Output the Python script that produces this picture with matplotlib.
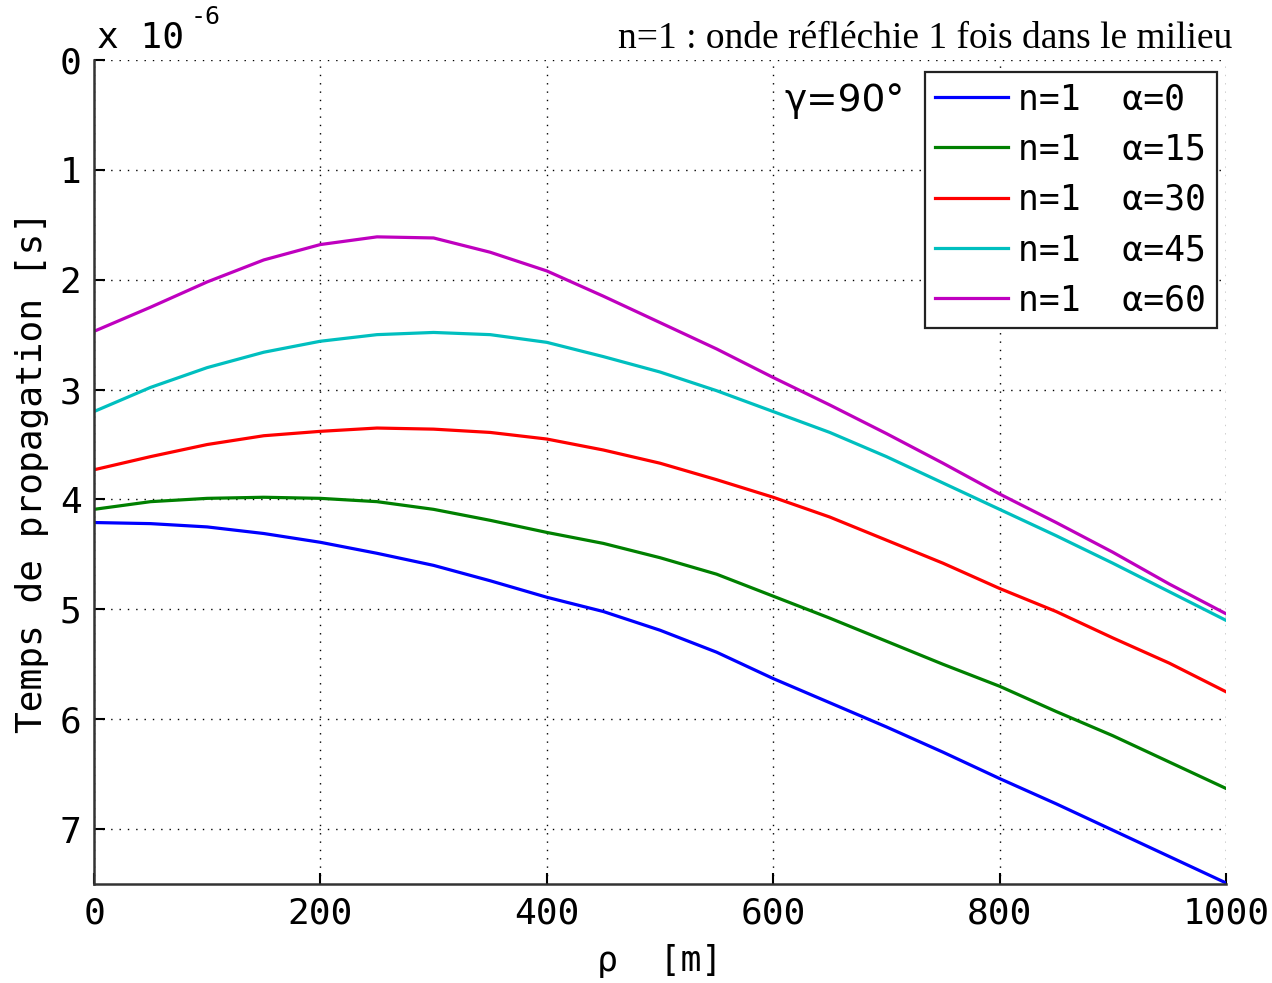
import matplotlib
matplotlib.use("Agg")
import matplotlib.pyplot as plt

# ==============================
# DATA (temps en unites de 1e-6 s)
# ==============================
rho = [0, 50, 100, 150, 200, 250, 300, 350, 400, 450, 500, 550,
       600, 650, 700, 750, 800, 850, 900, 950, 1000]

t_a0 = [4.21, 4.22, 4.25, 4.31, 4.39, 4.49, 4.60, 4.74, 4.89, 5.02, 5.19, 5.39,
        5.63, 5.85, 6.07, 6.30, 6.54, 6.77, 7.01, 7.25, 7.49]
t_a15 = [4.09, 4.02, 3.99, 3.98, 3.99, 4.02, 4.09, 4.19, 4.30, 4.40, 4.53, 4.68,
         4.88, 5.08, 5.29, 5.50, 5.70, 5.93, 6.15, 6.39, 6.63]
t_a30 = [3.73, 3.61, 3.50, 3.42, 3.38, 3.35, 3.36, 3.39, 3.45, 3.55, 3.67, 3.82,
         3.98, 4.16, 4.37, 4.58, 4.81, 5.02, 5.26, 5.49, 5.75]
t_a45 = [3.20, 2.98, 2.80, 2.66, 2.56, 2.50, 2.48, 2.50, 2.57, 2.70, 2.84, 3.01,
         3.20, 3.39, 3.61, 3.85, 4.09, 4.33, 4.58, 4.84, 5.10]
t_a60 = [2.47, 2.25, 2.02, 1.82, 1.68, 1.61, 1.62, 1.75, 1.92, 2.15, 2.39, 2.63,
         2.89, 3.14, 3.40, 3.67, 3.95, 4.21, 4.48, 4.77, 5.04]

labels = ["n=1  α=0", "n=1  α=15", "n=1  α=30", "n=1  α=45", "n=1  α=60"]
colors = ["#0000ff", "#008000", "#ff0000", "#00bfbf", "#bf00bf"]
series = [t_a0, t_a15, t_a30, t_a45, t_a60]

# ==============================
# FIGURE
# ==============================
mono = "DejaVu Sans Mono"
fig = plt.figure(figsize=(12.72, 9.83), dpi=100)
ax = fig.add_axes([0.0739, 0.1007, 0.8899, 0.8383])

for t, lab, c in zip(series, labels, colors):
    ax.plot(rho, t, color=c, lw=2.3, label=lab)

ax.set_xlim(0, 1000)
ax.set_ylim(7.5, 0)
ax.set_xticks([0, 200, 400, 600, 800, 1000])
ax.set_yticks([0, 1, 2, 3, 4, 5, 6, 7])
ax.grid(True, color="black", linestyle=(0, (1, 5)), linewidth=1.0)

for s in ["top", "right"]:
    ax.spines[s].set_visible(False)
for s in ["left", "bottom"]:
    ax.spines[s].set_linewidth(1.8)
    ax.spines[s].set_color("#333333")

ax.tick_params(direction="in", length=8, width=1.5, labelsize=26, pad=9)
for lbl in ax.get_xticklabels() + ax.get_yticklabels():
    lbl.set_fontfamily(mono)

ax.set_xlabel("ρ  [m]", fontsize=25, fontfamily=mono, labelpad=10)
ax.set_ylabel("Temps de propagation [s]", fontsize=26, fontfamily=mono, labelpad=8)

# multiplicateur en haut a gauche
fig.text(0.076, 0.945, "x 10", fontsize=26, fontfamily=mono, va="bottom")
fig.text(0.150, 0.970, "-6", fontsize=18, fontfamily=mono, va="bottom")

# titre
fig.text(0.969, 0.961, "n=1 : onde réfléchie 1 fois dans le milieu",
         fontsize=27, fontfamily="Liberation Serif", ha="right", va="center")

fig.text(0.617, 0.897, "γ=90°", fontsize=27, fontfamily="DejaVu Sans",
         ha="left", va="center")

leg = ax.legend(loc="upper right", bbox_to_anchor=(0.9565, 0.927),
                bbox_transform=fig.transFigure, borderaxespad=0,
                prop={"family": mono, "size": 25}, handlelength=2.1,
                handletextpad=0.3, labelspacing=0.47, borderpad=0.3,
                fancybox=False, framealpha=1.0)
leg.get_frame().set_edgecolor("#222222")
leg.get_frame().set_linewidth(1.6)

plt.savefig("out.png", dpi=100)
